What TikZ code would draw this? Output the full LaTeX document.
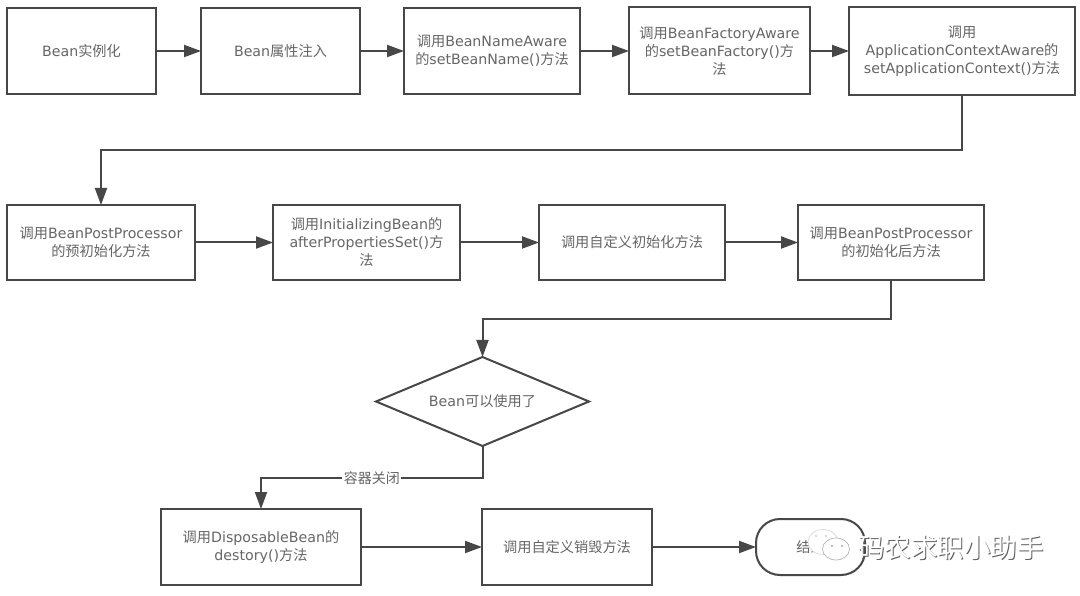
\documentclass[tikz,border=0pt]{standalone}
\usepackage{fontspec}
\setmainfont{DejaVu Sans}
\newfontfamily\cjk{Noto Sans CJK SC}
\usetikzlibrary{shapes.geometric,arrows.meta}
\definecolor{ln}{HTML}{474747}
\definecolor{tx}{HTML}{666666}
\newcommand{\C}[1]{{\cjk #1}}
\tikzset{
  every node/.style={font=\fontsize{14.2}{18}\selectfont, text=tx, align=center, inner sep=0pt, outer sep=0pt},
  box/.style={draw=ln, line width=2pt, fill=white, rectangle},
  term/.style={draw=ln, line width=2pt, fill=white, rounded corners=24pt},
  conn/.style={draw=ln, line width=2pt, -{Triangle[length=17pt,width=12pt]}},
  edgelab/.style={fill=white, inner xsep=1.5pt, inner ysep=1pt, font=\fontsize{14}{16}\selectfont},
  wm/.style={font=\cjk\fontsize{26.5}{26.5}\selectfont},
  bubble/.style={ellipse, fill=white, draw=gray!60, line width=.7pt},
  eye/.style={circle, fill=gray!70, minimum size=2.4pt},
}
\begin{document}
\begin{tikzpicture}[x=1pt,y=-1pt]
\useasboundingbox[fill=white] (0,0) rectangle (1080,596);
\node[box,minimum width=149pt,minimum height=86pt] (a1) at (81.5,51) {Bean\C{实例化}};
\node[box,minimum width=159pt,minimum height=86pt] (a2) at (280.5,51) {Bean\C{属性注入}};
\node[box,minimum width=176pt,minimum height=86pt] (a3) at (492,51) {\C{调用}BeanNameAware\\\C{的}setBeanName()\C{方法}};
\node[box,minimum width=181pt,minimum height=87pt] (a4) at (719.5,51) {\C{调用}BeanFactoryAware\\\C{的}setBeanFactory()\C{方}\\\C{法}};
\node[box,minimum width=226pt,minimum height=88pt] (a5) at (962,51) {\C{调用}\\ApplicationContextAware\C{的}\\setApplicationContext()\C{方法}};
\node[box,minimum width=188pt,minimum height=75pt] (b1) at (101,242.5) {\C{调用}BeanPostProcessor\\\C{的预初始化方法}};
\node[box,minimum width=187pt,minimum height=75pt] (b2) at (366.5,242.5) {\C{调用}InitializingBean\C{的}\\afterPropertiesSet()\C{方}\\\C{法}};
\node[box,minimum width=186pt,minimum height=75pt] (b3) at (632,242.5) {\C{调用自定义初始化方法}};
\node[box,minimum width=186pt,minimum height=75pt] (b4) at (891,242.5) {\C{调用}BeanPostProcessor\\\C{的初始化后方法}};
\node[draw=ln,line width=2pt,fill=white,diamond,aspect=2.39,minimum width=213pt,minimum height=89pt] (d) at (482.5,401.5) {Bean\C{可以使用了}};
\node[box,minimum width=200pt,minimum height=76pt] (c1) at (261,547) {\C{调用}DisposableBean\C{的}\\destory()\C{方法}};
\node[box,minimum width=170pt,minimum height=76pt] (c2) at (567,547) {\C{调用自定义销毁方法}};
\node[term,minimum width=109pt,minimum height=56pt] (c3) at (810.5,547) {\C{结束}};
\draw[conn] (a1) -- (a2);
\draw[conn] (a2) -- (a3);
\draw[conn] (a3) -- (a4);
\draw[conn] (a4) -- (a5);
\draw[conn] (a5.south) -- ++(0,55) -| (b1.north);
\draw[conn] (b1) -- (b2);
\draw[conn] (b2) -- (b3);
\draw[conn] (b3) -- (b4);
\draw[conn] (b4.south) -- ++(0,39) -| (d.north);
\draw[conn] (d.south) -- ++(0,31.5) -| node[pos=0.25,edgelab,yshift=-1pt]{\C{容器关闭}} (c1.north);
\draw[conn] (c1) -- (c2);
\draw[conn] (c2) -- (c3);
% watermark: WeChat-style icon and name
\node[bubble,draw=gray!30,minimum width=30pt,minimum height=25pt] (w0) at (823,542) {};
\node[eye,fill=gray!40] (e1) at (816,536) {};
\node[eye,fill=gray!40] (e2) at (826,536) {};
\node[bubble,minimum width=27pt,minimum height=22pt] (w1) at (836,549) {};
\node[eye] (e3) at (832,546) {};
\node[eye] (e4) at (842,546) {};
\node[wm,text=gray!75!black] (w2) at (952,548.5) {码农求职小助手};
\node[wm,text=white] (w3) at (951,547.5) {码农求职小助手};
\end{tikzpicture}
\end{document}
